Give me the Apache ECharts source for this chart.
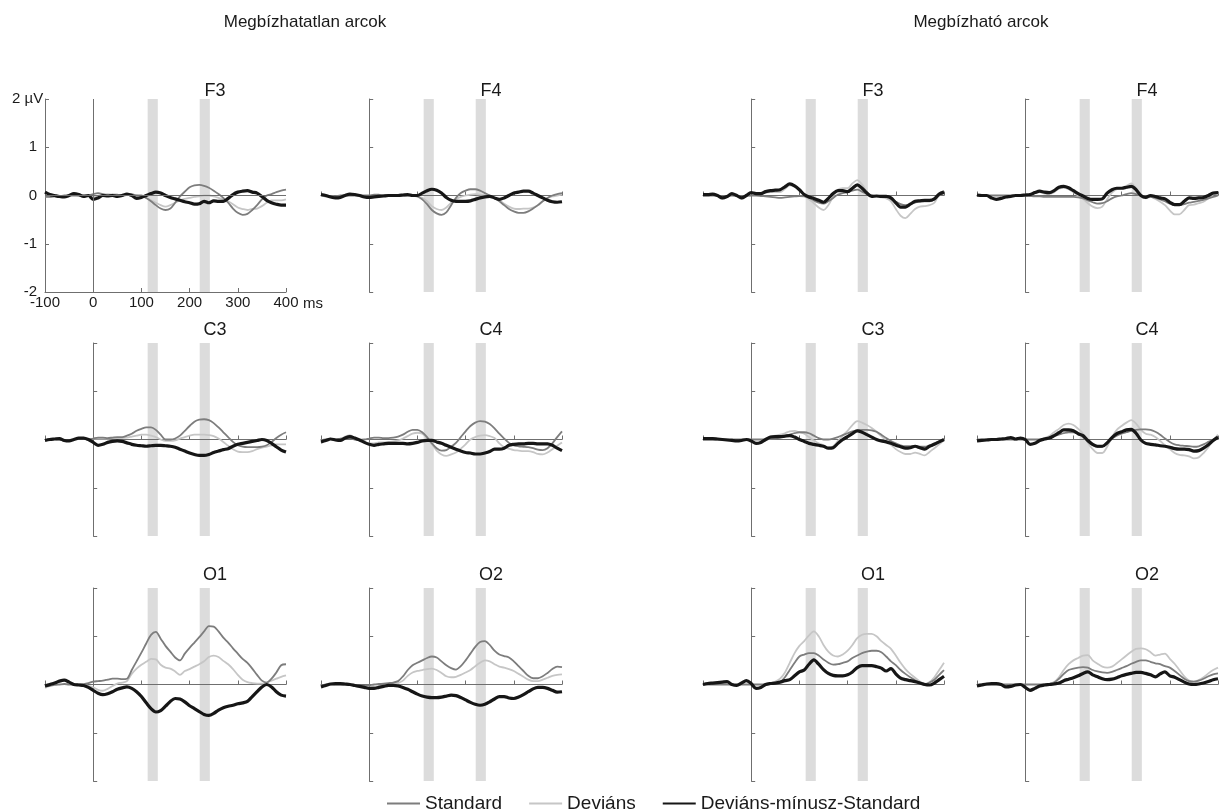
<!DOCTYPE html>
<html><head><meta charset="utf-8">
<script src="https://cdn.jsdelivr.net/npm/echarts@6/dist/echarts.min.js"></script>
<style>html,body{margin:0;padding:0;background:#fff}#chart{width:1220px;height:811px}</style>
</head><body><div id="chart"></div>
<script>
// ---------- data ----------
const timesMs = [-100,-90,-80,-70,-60,-50,-40,-30,-20,-10,0,10,20,30,40,50,60,70,80,90,100,110,120,130,140,150,160,170,180,190,200,210,220,230,240,250,260,270,280,290,300,310,320,330,340,350,360,370,380,390,400];
const groupTitles = ['Megbízhatatlan arcok', 'Megbízható arcok'];
const panelTitles = ['F3','F4','F3','F4','C3','C4','C3','C4','O1','O2','O1','O2'];
const seriesNames = ['Standard','Deviáns','Deviáns-mínusz-Standard'];
const windowsMs = [[113,134],[221,242]];

// Megbízhatatlan arcok (u*), Megbízható arcok (t*)
const uF3_std = [-0.03,-0.03,-0.02,-0.02,0,0,0,0,0,0, 0.03,0.05,0.03,0,0.02,0.02,0,0.02,0.03,0, 0,-0.05,-0.12,-0.2,-0.27,-0.3,-0.27,-0.15,-0.02,0.08, 0.17,0.21,0.22,0.2,0.16,0.1,0.03,-0.05,-0.15,-0.27, -0.36,-0.4,-0.38,-0.3,-0.2,-0.08,0,0.03,0.07,0.1,0.12];
const uF3_dev = [-0.02,-0.03,-0.02,-0.03,-0.02,0,0.02,0,0,-0.02, -0.03,0,0.02,0.03,0.02,0,0.02,0.03,0.02,0, -0.02,-0.05,-0.1,-0.15,-0.2,-0.23,-0.2,-0.15,-0.1,-0.07, -0.05,-0.03,-0.02,0,0,-0.02,-0.05,-0.08,-0.12,-0.18, -0.25,-0.28,-0.3,-0.28,-0.27,-0.22,-0.15,-0.1,-0.1,-0.1,-0.08];
const uF3_diff = [0.07,0.02,0,-0.02,-0.03,0,0.04,0.02,-0.02,0, -0.08,-0.05,0,-0.01,0,-0.02,0,0.03,0,-0.06, -0.04,0,0.04,0.07,0.05,0,-0.04,-0.07,-0.1,-0.13, -0.15,-0.18,-0.17,-0.12,-0.15,-0.11,-0.12,-0.12,-0.06,0.02, 0.07,0.09,0.1,0.07,0.05,-0.02,-0.1,-0.15,-0.18,-0.2,-0.2];

const uF4_std = [0,-0.02,-0.02,-0.02,0,0,0,0,0,0, 0,0.02,0.02,0,0,0,0,0,0,0, -0.02,-0.08,-0.18,-0.3,-0.37,-0.4,-0.35,-0.2,-0.05,0.05, 0.1,0.13,0.13,0.1,0.05,0,-0.05,-0.12,-0.2,-0.28, -0.33,-0.36,-0.36,-0.33,-0.27,-0.2,-0.12,-0.05,0,0.03,0.05];
const uF4_dev = [0,-0.02,-0.02,-0.03,-0.02,0,0.02,0.01,0,-0.02, -0.03,-0.01,0,0,0,0,0,0.01,0.02,0, -0.02,-0.05,-0.12,-0.22,-0.28,-0.3,-0.25,-0.15,-0.08,-0.03, 0,0.02,0.03,0.02,0,-0.02,-0.05,-0.1,-0.17,-0.23, -0.27,-0.28,-0.27,-0.27,-0.25,-0.2,-0.12,-0.05,-0.02,0,0.02];
const uF4_diff = [0.02,0,-0.03,-0.05,-0.04,0,0.03,0.02,0,-0.03, -0.04,-0.03,-0.02,-0.01,0,0,0,0.01,0.02,0, 0,0.05,0.1,0.13,0.11,0.05,-0.04,-0.1,-0.12,-0.12, -0.12,-0.11,-0.08,-0.05,-0.03,-0.02,-0.05,-0.08,-0.05,0, 0.05,0.07,0.09,0.09,0.05,0,-0.05,-0.1,-0.13,-0.14,-0.13];

const uC3_std = [-0.02,0,0.01,0,-0.02,-0.02,0,0.02,0.02,0, 0.02,0.04,0.04,0.03,0.04,0.05,0.05,0.08,0.12,0.18, 0.22,0.25,0.25,0.2,0.1,0,0,0.02,0.08,0.18, 0.28,0.37,0.41,0.42,0.4,0.34,0.25,0.15,0.05,-0.05, -0.12,-0.15,-0.16,-0.16,-0.16,-0.15,-0.12,-0.05,0.03,0.1,0.15];
const uC3_dev = [-0.02,0,0.01,0,-0.02,-0.02,0,0.02,0.02,0, 0.02,0.02,0.02,0.02,0.03,0.03,0.03,0.04,0.06,0.08, 0.1,0.1,0.08,0.05,0,-0.03,-0.03,-0.02,0.02,0.05, 0.08,0.1,0.1,0.1,0.09,0.07,0.02,-0.05,-0.13,-0.2, -0.25,-0.26,-0.26,-0.24,-0.2,-0.17,-0.15,-0.12,-0.1,-0.1,-0.1];
const uC3_diff = [-0.02,0,0.01,0.02,-0.02,-0.03,0,0.03,0.03,0, -0.06,-0.12,-0.1,-0.06,-0.04,-0.03,-0.04,-0.07,-0.1,-0.12, -0.13,-0.14,-0.13,-0.12,-0.12,-0.13,-0.14,-0.16,-0.2,-0.24, -0.28,-0.31,-0.33,-0.33,-0.31,-0.27,-0.24,-0.21,-0.19,-0.14, -0.1,-0.08,-0.06,-0.04,-0.02,0,-0.02,-0.08,-0.15,-0.22,-0.26];

const uC4_std = [-0.02,0,0.01,0,0.02,0.03,0.03,0,-0.01,0, 0.02,0.04,0.04,0.03,0.03,0.04,0.06,0.1,0.16,0.2, 0.2,0.15,0.05,-0.08,-0.18,-0.23,-0.22,-0.15,-0.07,0.05, 0.17,0.28,0.35,0.38,0.37,0.32,0.23,0.12,0.02,-0.07, -0.12,-0.14,-0.15,-0.16,-0.18,-0.21,-0.22,-0.18,-0.08,0.05,0.17];
const uC4_dev = [-0.07,-0.02,0.02,-0.01,0,0.06,0.09,0.03,-0.02,-0.06, -0.08,-0.08,-0.06,-0.06,-0.05,-0.04,-0.02,0.02,0.07,0.12, 0.14,0.12,0.03,-0.1,-0.23,-0.31,-0.34,-0.31,-0.27,-0.19, -0.1,0,0.05,0.08,0.09,0.07,0.03,-0.08,-0.16,-0.19, -0.22,-0.23,-0.24,-0.24,-0.26,-0.3,-0.31,-0.27,-0.2,-0.13,-0.06];
const uC4_diff = [-0.05,-0.02,0.01,-0.01,-0.02,0.03,0.06,0.03,-0.01,-0.06, -0.1,-0.12,-0.1,-0.09,-0.08,-0.08,-0.08,-0.08,-0.09,-0.08, -0.06,-0.03,-0.02,-0.02,-0.05,-0.08,-0.12,-0.16,-0.2,-0.24, -0.27,-0.28,-0.3,-0.3,-0.28,-0.25,-0.2,-0.2,-0.18,-0.12, -0.1,-0.09,-0.09,-0.08,-0.08,-0.09,-0.09,-0.09,-0.12,-0.18,-0.23];

const uO1_std = [-0.04,-0.03,-0.01,0,0.01,0,0,0,0.01,0.03, 0.06,0.07,0.08,0.1,0.12,0.12,0.11,0.12,0.3,0.48, 0.66,0.85,1.03,1.09,0.95,0.8,0.68,0.56,0.5,0.64, 0.76,0.87,0.98,1.1,1.21,1.2,1.1,0.97,0.87,0.75, 0.64,0.53,0.45,0.33,0.2,0.08,0.04,0.12,0.25,0.4,0.42];
const uO1_dev = [-0.07,-0.03,0.02,0.07,0.1,0.05,0,-0.01,-0.01,-0.03, -0.06,-0.11,-0.13,-0.09,-0.03,0.02,0.04,0.07,0.22,0.33, 0.41,0.47,0.53,0.52,0.41,0.35,0.33,0.27,0.2,0.28, 0.32,0.37,0.42,0.48,0.57,0.6,0.57,0.49,0.42,0.32, 0.2,0.1,0.05,0.03,0.02,0.02,0.04,0.08,0.12,0.16,0.19];
const uO1_diff = [-0.03,0,0.03,0.07,0.09,0.05,0,-0.01,-0.02,-0.06, -0.12,-0.18,-0.21,-0.19,-0.15,-0.1,-0.07,-0.05,-0.08,-0.15, -0.25,-0.38,-0.5,-0.57,-0.54,-0.45,-0.35,-0.29,-0.3,-0.36, -0.44,-0.5,-0.56,-0.62,-0.64,-0.6,-0.53,-0.48,-0.45,-0.43, -0.4,-0.38,-0.35,-0.25,-0.15,-0.05,0,-0.05,-0.15,-0.22,-0.24];

const uO2_std = [-0.03,0,0.01,0,0,0,-0.01,-0.02,-0.03,-0.03, -0.02,0,0.01,0.02,0.03,0.04,0.07,0.17,0.3,0.4, 0.45,0.5,0.55,0.58,0.56,0.48,0.4,0.34,0.31,0.38, 0.5,0.64,0.78,0.88,0.9,0.82,0.7,0.62,0.59,0.56, 0.48,0.38,0.28,0.18,0.13,0.13,0.17,0.24,0.32,0.37,0.36];
const uO2_dev = [-0.04,-0.01,0,0,0,0,-0.01,-0.03,-0.05,-0.06, -0.06,-0.05,-0.03,-0.02,0,0.01,0.03,0.08,0.18,0.25, 0.28,0.3,0.32,0.33,0.3,0.24,0.17,0.15,0.16,0.2, 0.25,0.3,0.38,0.45,0.5,0.48,0.42,0.37,0.35,0.32, 0.28,0.22,0.16,0.1,0.07,0.07,0.1,0.14,0.18,0.2,0.21];
const uO2_diff = [-0.05,-0.02,0.01,0.02,0.02,0.01,0,-0.02,-0.04,-0.06, -0.08,-0.08,-0.06,-0.04,-0.02,-0.02,-0.03,-0.06,-0.1,-0.15, -0.2,-0.24,-0.26,-0.27,-0.27,-0.26,-0.24,-0.22,-0.23,-0.27, -0.32,-0.37,-0.41,-0.43,-0.41,-0.36,-0.3,-0.25,-0.25,-0.28, -0.29,-0.26,-0.21,-0.15,-0.09,-0.06,-0.06,-0.08,-0.12,-0.16,-0.15];

const tF3_std = [0,0,0,0,-0.02,-0.01,0,-0.01,-0.02,-0.01, 0,0,-0.01,-0.02,-0.03,-0.04,-0.05,-0.04,-0.03,-0.02, -0.01,-0.02,-0.05,-0.1,-0.15,-0.17,-0.12,-0.05,0.02,0.05, 0.07,0.1,0.12,0.08,0.03,0,-0.01,-0.02,-0.03,-0.07, -0.13,-0.18,-0.2,-0.18,-0.15,-0.12,-0.12,-0.12,-0.08,0,0.05];
const tF3_dev = [0.02,0.02,0.03,0,-0.07,-0.03,0.04,-0.01,-0.07,-0.01, 0.06,0.04,0.03,0.06,0.07,0.07,0.07,0.14,0.21,0.18, 0.11,0,-0.08,-0.16,-0.25,-0.3,-0.2,-0.02,0.12,0.15, 0.15,0.25,0.32,0.23,0.08,-0.02,-0.02,-0.04,-0.06,-0.12, -0.28,-0.42,-0.47,-0.38,-0.28,-0.23,-0.22,-0.2,-0.15,0.03,0.1];
const tF3_diff = [0.02,0.02,0.03,0,-0.05,-0.02,0.04,0,-0.05,0, 0.06,0.04,0.04,0.08,0.1,0.11,0.12,0.18,0.24,0.2, 0.12,0.02,-0.03,-0.06,-0.1,-0.14,-0.06,0.04,0.1,0.1, 0.08,0.15,0.22,0.15,0.05,-0.02,-0.01,-0.02,-0.02,-0.05, -0.15,-0.24,-0.24,-0.18,-0.12,-0.11,-0.1,-0.1,-0.07,0.03,0.07];

const tF4_std = [0,0,0,0,0,0,0,0,0,0, 0,-0.01,-0.02,-0.02,-0.03,-0.03,-0.03,-0.03,-0.03,-0.03, -0.03,-0.04,-0.06,-0.1,-0.14,-0.17,-0.16,-0.12,-0.06,-0.02, 0,0.03,0.05,0.03,0,-0.02,-0.03,-0.05,-0.08,-0.12, -0.17,-0.2,-0.2,-0.18,-0.15,-0.13,-0.11,-0.09,-0.06,-0.03,0];
const tF4_dev = [0.01,0,0,-0.05,-0.08,-0.06,-0.03,-0.02,0,0, 0.01,0.01,0.04,0.07,0.04,0.03,0.07,0.14,0.16,0.13, 0.07,0,-0.07,-0.16,-0.23,-0.26,-0.23,-0.08,0.06,0.13, 0.15,0.2,0.25,0.15,0,-0.06,-0.03,-0.07,-0.13,-0.2, -0.31,-0.39,-0.39,-0.3,-0.2,-0.19,-0.16,-0.13,-0.06,0.02,0.06];
const tF4_diff = [0.01,0,0,-0.05,-0.08,-0.06,-0.03,-0.02,0,0, 0.01,0.02,0.06,0.09,0.07,0.06,0.1,0.17,0.19,0.16, 0.1,0.04,-0.01,-0.06,-0.08,-0.08,-0.07,0.05,0.12,0.15, 0.15,0.17,0.19,0.12,0,-0.04,0,-0.02,-0.05,-0.07, -0.14,-0.19,-0.19,-0.12,-0.05,-0.06,-0.05,-0.04,0,0.05,0.06];

const tC3_std = [0,0,0,0,0,0,0,0,0,0, 0,0,0,0,0.01,0.02,0.04,0.07,0.1,0.13, 0.15,0.15,0.13,0.08,0.03,0,0,0.02,0.05,0.09, 0.13,0.17,0.19,0.2,0.2,0.19,0.16,0.1,0.03,-0.03, -0.08,-0.12,-0.14,-0.14,-0.14,-0.15,-0.15,-0.12,-0.08,-0.04,0];
const tC3_dev = [0.02,0.02,0.02,0.01,0,-0.01,-0.02,-0.03,-0.02,0, -0.03,-0.08,-0.06,0,0.06,0.08,0.1,0.13,0.17,0.18, 0.15,0.12,0.05,-0.02,-0.08,-0.12,-0.17,-0.14,-0.03,0.08, 0.18,0.3,0.38,0.35,0.3,0.24,0.16,0.07,-0.02,-0.11, -0.2,-0.26,-0.3,-0.3,-0.27,-0.3,-0.33,-0.26,-0.18,-0.1,-0.01];
const tC3_diff = [0.02,0.02,0.02,0.01,0,-0.01,-0.02,-0.03,-0.02,0, -0.03,-0.08,-0.06,0,0.05,0.06,0.06,0.07,0.08,0.05, 0,-0.04,-0.08,-0.1,-0.12,-0.14,-0.18,-0.17,-0.08,0, 0.06,0.12,0.18,0.15,0.1,0.05,0,-0.03,-0.05,-0.08, -0.12,-0.15,-0.18,-0.17,-0.14,-0.17,-0.2,-0.14,-0.1,-0.05,0];

const tC4_std = [0,0,0,0,0,0,0,0,0,0, 0,0,0,0,0.02,0.04,0.07,0.1,0.13,0.15, 0.15,0.12,0.05,-0.05,-0.12,-0.16,-0.15,-0.08,0.02,0.08, 0.12,0.15,0.18,0.2,0.21,0.21,0.2,0.16,0.1,0.02, -0.05,-0.1,-0.12,-0.13,-0.14,-0.15,-0.14,-0.1,-0.05,0,0.05];
const tC4_dev = [-0.03,-0.02,-0.01,0,0,0.01,0.02,0.04,0.01,0.03, 0,-0.1,-0.08,-0.02,0.03,0.07,0.15,0.22,0.3,0.33, 0.3,0.22,0.12,-0.07,-0.2,-0.28,-0.28,-0.15,0.05,0.2, 0.28,0.35,0.4,0.33,0.2,0.12,0.1,0.05,-0.03,-0.12, -0.2,-0.28,-0.32,-0.33,-0.35,-0.39,-0.37,-0.28,-0.16,-0.02,0.1];
const tC4_diff = [-0.03,-0.02,-0.01,0,0,0.01,0.02,0.04,0.01,0.03, 0,-0.1,-0.08,-0.02,0.01,0.03,0.08,0.14,0.2,0.2, 0.18,0.12,0.08,-0.02,-0.1,-0.14,-0.14,-0.07,0.04,0.12, 0.16,0.2,0.21,0.13,-0.01,-0.08,-0.1,-0.11,-0.13,-0.14, -0.16,-0.19,-0.2,-0.2,-0.21,-0.24,-0.23,-0.18,-0.11,-0.02,0.05];

const tO1_std = [0,0,0,0,0,0,0,0,0,0, 0,0,0,0,0.01,0.02,0.05,0.15,0.3,0.45, 0.58,0.62,0.65,0.65,0.6,0.52,0.45,0.41,0.42,0.45, 0.48,0.55,0.6,0.65,0.68,0.7,0.7,0.67,0.58,0.48, 0.4,0.3,0.22,0.15,0.09,0.03,0,0.04,0.1,0.2,0.3];
const tO1_dev = [0,0.02,0.03,0.04,0.05,0.06,0,-0.02,0.03,0.08, 0.02,-0.08,-0.06,0,0.03,0.06,0.12,0.25,0.45,0.65, 0.8,0.9,1.02,1.1,1.0,0.82,0.68,0.6,0.58,0.62, 0.7,0.82,0.96,1.03,1.05,1.05,1.0,0.9,0.82,0.74, 0.6,0.45,0.32,0.22,0.14,0.06,0.01,0.05,0.15,0.3,0.45];
const tO1_diff = [0,0.02,0.03,0.04,0.05,0.06,0,-0.02,0.03,0.08, 0.02,-0.08,-0.06,0,0.02,0.03,0.05,0.08,0.1,0.18, 0.26,0.3,0.42,0.51,0.42,0.31,0.23,0.19,0.18,0.18, 0.2,0.26,0.35,0.39,0.39,0.39,0.37,0.34,0.28,0.33, 0.22,0.13,0.1,0.08,0.06,0.03,0,-0.01,0.03,0.1,0.17];

const tO2_std = [0,0,0,0,0,0,0,0,0,0, 0,0,0,0,0,0.01,0.04,0.12,0.22,0.3, 0.33,0.35,0.36,0.35,0.3,0.27,0.25,0.24,0.26,0.3, 0.34,0.38,0.43,0.47,0.5,0.5,0.47,0.44,0.42,0.38, 0.35,0.28,0.2,0.12,0.07,0.06,0.08,0.12,0.17,0.21,0.23];
const tO2_dev = [-0.03,-0.01,0.01,0.02,0.02,0,-0.05,-0.04,-0.01,0, -0.06,-0.12,-0.08,-0.03,-0.01,0.01,0.05,0.15,0.3,0.42, 0.5,0.55,0.6,0.61,0.5,0.43,0.37,0.35,0.37,0.44, 0.52,0.6,0.68,0.74,0.75,0.73,0.67,0.6,0.62,0.64, 0.53,0.43,0.3,0.17,0.08,0.06,0.09,0.15,0.23,0.3,0.35];
const tO2_diff = [-0.03,-0.01,0.01,0.02,0.02,0,-0.05,-0.04,-0.01,0, -0.06,-0.12,-0.08,-0.03,-0.01,0,0.01,0.03,0.08,0.11, 0.14,0.18,0.23,0.26,0.2,0.16,0.12,0.1,0.11,0.14, 0.18,0.21,0.23,0.25,0.25,0.23,0.2,0.16,0.22,0.26, 0.18,0.15,0.1,0.05,0.01,0,0.01,0.03,0.06,0.1,0.12];

const panels = [
  [uF3_std,uF3_dev,uF3_diff],[uF4_std,uF4_dev,uF4_diff],[tF3_std,tF3_dev,tF3_diff],[tF4_std,tF4_dev,tF4_diff],
  [uC3_std,uC3_dev,uC3_diff],[uC4_std,uC4_dev,uC4_diff],[tC3_std,tC3_dev,tC3_diff],[tC4_std,tC4_dev,tC4_diff],
  [uO1_std,uO1_dev,uO1_diff],[uO2_std,uO2_dev,uO2_diff],[tO1_std,tO1_dev,tO1_diff],[tO2_std,tO2_dev,tO2_diff]
];

// ---------- layout & style ----------
const FONT = '"Liberation Sans", Arial, sans-serif';
const colLefts = [45, 321, 703, 977];
const rowTops = [99, 343, 588];
const titleCenters = [87, 326, 571];
const titleOffsetX = 165;
const W = 241, H = 193;
const axisColor = '#6f6f6f';
const lineColors = ['#7d7d7d', '#c6c6c6', '#161616'];
const lineWidths = [1.8, 1.8, 3.2];

const grids = [], xAxes = [], yAxes = [], series = [];
const titles = [
  {text: groupTitles[0], left: 300, top: 9, textAlign: 'center', textStyle: {fontSize: 17, fontWeight: 'normal', color: '#1a1a1a', fontFamily: FONT}},
  {text: groupTitles[1], left: 976, top: 9, textAlign: 'center', textStyle: {fontSize: 17, fontWeight: 'normal', color: '#1a1a1a', fontFamily: FONT}}
];

panels.forEach((p, i) => {
  const row = Math.floor(i / 4), col = i % 4;
  grids.push({left: colLefts[col], top: rowTops[row], width: W, height: H, containLabel: false});
  titles.push({text: panelTitles[i], left: colLefts[col] + titleOffsetX, top: titleCenters[row] - 10, textAlign: 'center',
    textStyle: {fontSize: 18, fontWeight: 'normal', color: '#1a1a1a', fontFamily: FONT}});
  const first = i === 0;
  xAxes.push({
    gridIndex: i, type: 'value', min: -100, max: 400, interval: 100, z: 1,
    position: 'bottom',
    axisLine: {show: true, onZero: !first, lineStyle: {color: axisColor, width: 1}},
    axisTick: {show: true, inside: true, length: 4, lineStyle: {color: axisColor}},
    axisLabel: {show: first, color: '#1a1a1a', fontSize: 15, margin: 3, fontFamily: FONT},
    splitLine: {show: false},
    name: first ? 'ms' : '', nameLocation: 'end', nameGap: 17,
    nameTextStyle: {fontSize: 15, color: '#1a1a1a', fontFamily: FONT, verticalAlign: 'top', padding: [4, 0, 0, 0]}
  });
  yAxes.push({
    gridIndex: i, type: 'value', min: -2, max: 2, interval: 1, z: 1,
    position: 'left',
    axisLine: {show: true, onZero: !first, lineStyle: {color: axisColor, width: 1}},
    axisTick: {show: true, inside: true, length: 4, lineStyle: {color: axisColor}},
    axisLabel: {show: first, color: '#1a1a1a', fontSize: 15, margin: 8, fontFamily: FONT,
      formatter: v => (v === 2 ? '{u|2 µV}' : String(v)),
      rich: {u: {fontSize: 15, color: '#1a1a1a', fontFamily: FONT, width: 25, align: 'left'}}},
    splitLine: {show: false}
  });
  // analysis windows (grey bands) + inner axes of the first panel
  const deco = {
    type: 'line', xAxisIndex: i, yAxisIndex: i, data: [], z: 0, silent: true,
    markArea: {silent: true, itemStyle: {color: '#dcdcdc'},
      data: windowsMs.map(w => [{xAxis: w[0]}, {xAxis: w[1]}])}
  };
  if (first) {
    deco.markLine = {silent: true, symbol: ['none', 'none'], label: {show: false},
      lineStyle: {color: axisColor, width: 1, type: 'solid'},
      data: [{xAxis: 0}, {yAxis: 0}]};
  }
  series.push(deco);
  // draw order: Deviáns, Standard, difference
  [1, 0, 2].forEach(k => {
    series.push({
      name: seriesNames[k], type: 'line', xAxisIndex: i, yAxisIndex: i,
      symbol: 'none', smooth: 0.3, z: k === 2 ? 4 : 3,
      lineStyle: {color: lineColors[k], width: lineWidths[k]},
      itemStyle: {color: lineColors[k]},
      data: timesMs.map((t, j) => [t, p[k][j]])
    });
  });
});

const chart = echarts.init(document.getElementById('chart'), null, {renderer: 'canvas'});
chart.setOption({
  animation: false,
  backgroundColor: '#ffffff',
  title: titles,
  grid: grids,
  xAxis: xAxes,
  yAxis: yAxes,
  legend: {
    data: seriesNames, left: 381, top: 789, itemWidth: 33, itemHeight: 14, itemGap: 26,
    selectedMode: false,
    itemStyle: {opacity: 0},
    textStyle: {fontSize: 19, color: '#1a1a1a', fontFamily: FONT}
  },
  series: series
});
</script></body></html>
